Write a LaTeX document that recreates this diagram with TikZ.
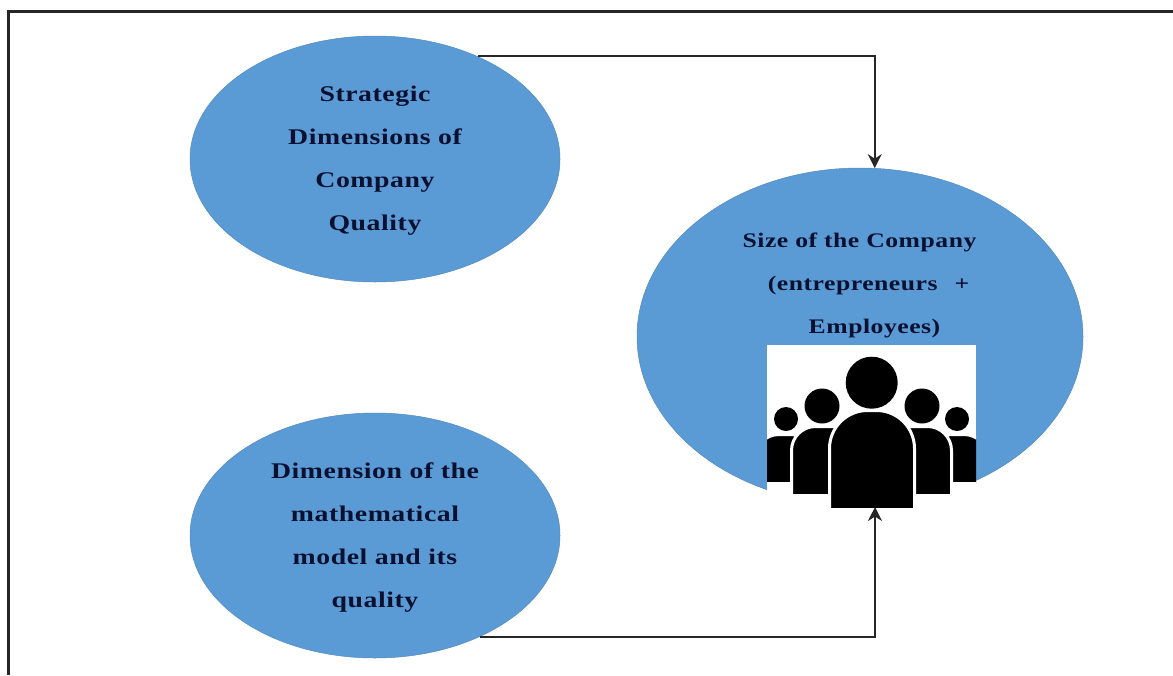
\documentclass[tikz,border=0pt]{standalone}
\usepackage{fontspec}
\setmainfont[FakeStretch=1.24,LetterSpace=2.5]{Liberation Serif}
\usetikzlibrary{shapes.geometric,arrows.meta}
\definecolor{fillblue}{HTML}{5B9BD5}
\definecolor{inkblue}{HTML}{0A1030}
\tikzset{
  x=1pt,y=-1pt,
  blob/.style={ellipse,fill=fillblue,draw=fillblue!90!black,line width=.5pt,inner sep=0pt,minimum width=#1},
  lab/.style={align=center,font=\fontsize{22.4}{43}\selectfont\bfseries,text=inkblue,inner sep=0pt},
  labs/.style={align=center,font=\fontsize{20.7}{43}\selectfont\bfseries,text=inkblue,inner sep=0pt},
  conn/.style={draw=black!85,line width=1.8pt,-{Stealth[length=14pt,width=14pt]}},
  person/.style={fill=black,draw=white,line width=3pt}
}
\newcommand{\bodyshape}[5]{% x1 x2 top bottom radius
  \path[person] (#1,#4) [rounded corners=#5] -- (#1,#3) -- (#2,#3) [sharp corners] -- (#2,#4) -- cycle;}
\begin{document}
\begin{tikzpicture}
\useasboundingbox (0,0) rectangle (1173,675);
\fill[white] (0,0) rectangle (1173,675);
\draw[black!85,line width=2.2pt] (8.5,675) -- (8.5,11.5) -- (1173,11.5);
\node[blob=370pt,minimum height=246pt] (e1) at (375,159) {};
\node[blob=370pt,minimum height=245pt] (e2) at (375,535.5) {};
\node[blob=446pt,minimum height=337pt] (e3) at (860,336.5) {};
\node[fill=white,minimum width=209pt,minimum height=164pt,inner sep=0pt] (icon) at (871.5,427) {};
\node[lab] (t1) at (375,161) {Strategic\\Dimensions of\\Company\\Quality};
\node[lab] (t2) at (375,538) {Dimension of the\\mathematical\\model and its\\quality};
\node[labs] (t3) at (859.5,285) {Size of the Company\\\hspace*{18pt}(entrepreneurs\hspace{10pt} +\\\hspace*{30pt}Employees)};
\begin{scope}
\clip (767,345) rectangle (976,510);
\fill[black] (786,419) circle (12);
\fill[black] (957,419) circle (12);
\bodyshape{755}{815}{434.5}{483.5}{24}
\bodyshape{928}{988}{434.5}{483.5}{24}
\fill[black] (822,406) circle (17.5);
\fill[black] (922,406) circle (17.5);
\bodyshape{791.5}{860}{426.5}{495.5}{24}
\bodyshape{883}{951.5}{426.5}{495.5}{24}
\fill[black] (871.7,382.7) circle (26);
\bodyshape{829.5}{914.5}{410.5}{509.5}{38}
\end{scope}
\coordinate (iconfoot) at (875,507);
\draw[conn] (e1.45) -| (e3.85);
\draw[conn] (e2.-44) -| (iconfoot);
\end{tikzpicture}
\end{document}
